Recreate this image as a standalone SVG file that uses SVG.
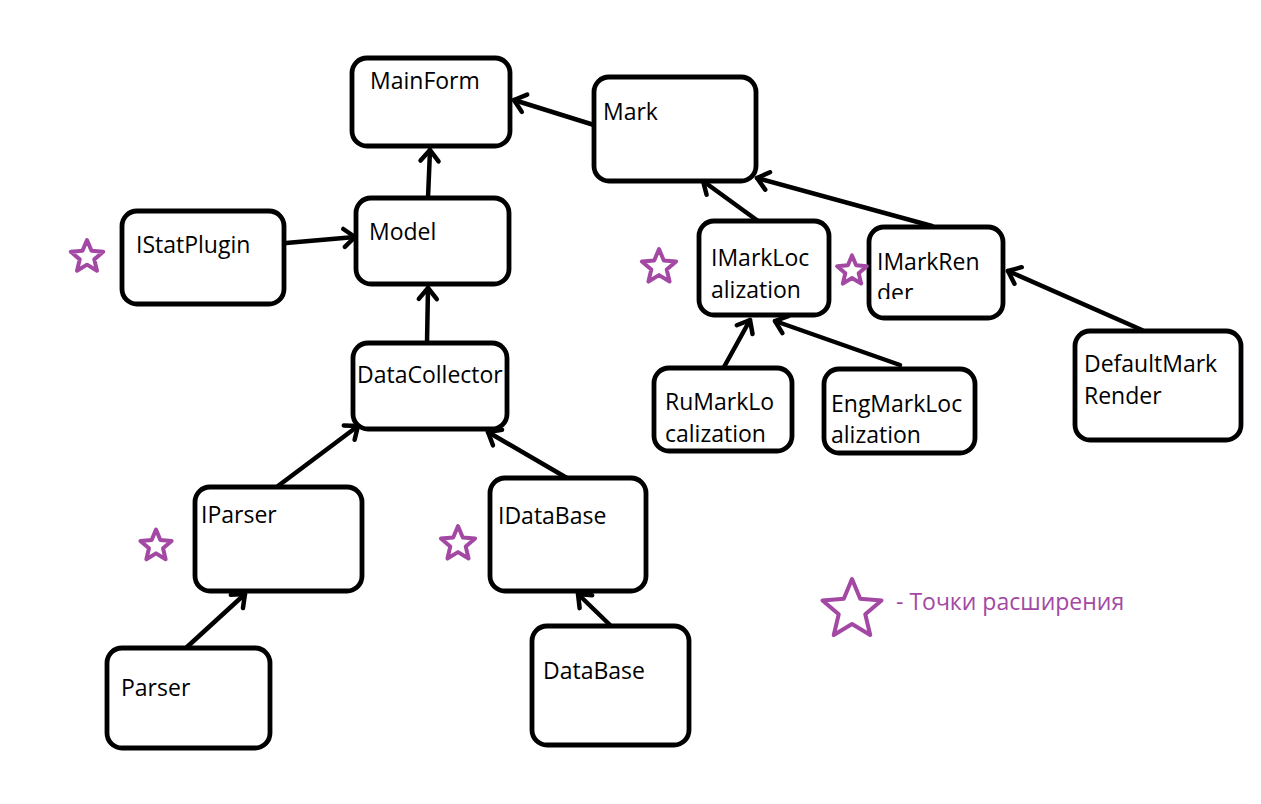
<svg xmlns="http://www.w3.org/2000/svg" width="1261" height="804" viewBox="0 0 1261 804">
<style>
.box{fill:#fff;stroke:#000;stroke-width:4.8}
.lbl{font-family:"Open Sans","Noto Sans",sans-serif;font-size:23px;fill:#000}
.edge{stroke:#000;stroke-width:4.5;fill:none;stroke-linecap:round}
.star{fill:#fff;stroke:#A349A4;stroke-linejoin:round}
.leg{font-family:"Open Sans","Noto Sans",sans-serif;font-size:23px;fill:#A349A4}
</style>
<defs>
<marker id="arr" markerUnits="userSpaceOnUse" viewBox="-14 -12 17 24" refX="0" refY="0" markerWidth="17" markerHeight="24" orient="auto" overflow="visible">
<path d="M-11,-9 L0,0 L-11,9" fill="none" stroke="#000" stroke-width="4.5" stroke-linecap="round" stroke-linejoin="round"/>
</marker>
<path id="st" d="M0,-20 L5.3,-7.28 L19.02,-6.18 L8.56,2.78 L11.76,16.18 L0,9 L-11.76,16.18 L-8.56,2.78 L-19.02,-6.18 L-5.3,-7.28 Z"/>
<clipPath id="clipRen"><rect x="870" y="230" width="132" height="69"/></clipPath>
</defs>
<rect width="1261" height="804" fill="#fff"/>
<g id="connectors">
<line class="edge" x1="428" y1="198" x2="430" y2="150" marker-end="url(#arr)"/>
<line class="edge" x1="594" y1="125" x2="514" y2="100" marker-end="url(#arr)"/>
<line class="edge" x1="286" y1="243" x2="355" y2="237" marker-end="url(#arr)"/>
<line class="edge" x1="427" y1="343" x2="428" y2="288" marker-end="url(#arr)"/>
<line class="edge" x1="278" y1="486" x2="358" y2="426" marker-end="url(#arr)"/>
<line class="edge" x1="567" y1="478" x2="488" y2="432" marker-end="url(#arr)"/>
<line class="edge" x1="187" y1="647" x2="245" y2="594" marker-end="url(#arr)"/>
<line class="edge" x1="610" y1="625" x2="578" y2="594" marker-end="url(#arr)"/>
<line class="edge" x1="758" y1="221" x2="703" y2="181" marker-end="url(#arr)"/>
<line class="edge" x1="932" y1="226" x2="757" y2="178" marker-end="url(#arr)"/>
<line class="edge" x1="724" y1="367" x2="750" y2="320" marker-end="url(#arr)"/>
<line class="edge" x1="900" y1="365" x2="775" y2="321" marker-end="url(#arr)"/>
<line class="edge" x1="1142" y1="330" x2="1008" y2="271" marker-end="url(#arr)"/>
</g>
<g id="MainForm"><rect class="box" x="352" y="58" width="158" height="88" rx="15"/><text class="lbl" x="370" y="89">MainForm</text></g>
<g id="Mark"><rect class="box" x="594" y="77" width="162" height="104" rx="15"/><text class="lbl" x="603" y="120">Mark</text></g>
<g id="Model"><rect class="box" x="356" y="198" width="153" height="86" rx="15"/><text class="lbl" x="369" y="240">Model</text></g>
<g id="IStatPlugin"><rect class="box" x="122" y="211" width="162" height="93" rx="15"/><text class="lbl" x="136" y="253">IStatPlugin</text></g>
<g id="DataCollector"><rect class="box" x="353" y="343" width="154" height="86" rx="15"/><text class="lbl" x="357" y="383">DataCollector</text></g>
<g id="IMarkLocalization"><rect class="box" x="699" y="221" width="130" height="94" rx="15"/><text class="lbl" x="711" y="266">IMarkLoc</text><text class="lbl" x="711" y="298">alization</text></g>
<g id="IMarkRender"><rect class="box" x="869" y="227" width="134" height="91" rx="15"/><g clip-path="url(#clipRen)"><text class="lbl" x="877" y="270">IMarkRen</text><text class="lbl" x="877" y="301">der</text></g></g>
<g id="RuMarkLocalization"><rect class="box" x="654" y="368" width="138" height="83" rx="15"/><text class="lbl" x="665" y="410">RuMarkLo</text><text class="lbl" x="665" y="442">calization</text></g>
<g id="EngMarkLocalization"><rect class="box" x="824" y="369" width="151" height="84" rx="15"/><text class="lbl" x="831" y="412">EngMarkLoc</text><text class="lbl" x="831" y="443">alization</text></g>
<g id="DefaultMarkRender"><rect class="box" x="1075" y="331" width="166" height="109" rx="15"/><text class="lbl" x="1084" y="372">DefaultMark</text><text class="lbl" x="1084" y="404">Render</text></g>
<g id="IParser"><rect class="box" x="195" y="487" width="167" height="104" rx="15"/><text class="lbl" x="201" y="523">IParser</text></g>
<g id="IDataBase"><rect class="box" x="490" y="478" width="156" height="113" rx="15"/><text class="lbl" x="498" y="524">IDataBase</text></g>
<g id="Parser"><rect class="box" x="107" y="648" width="163" height="100" rx="15"/><text class="lbl" x="121" y="696">Parser</text></g>
<g id="DataBase"><rect class="box" x="532" y="626" width="157" height="119" rx="15"/><text class="lbl" x="543" y="679">DataBase</text></g>
<g id="stars">
<use href="#st" class="star" transform="translate(87,257) scale(0.85)" stroke-width="4.7"/>
<use href="#st" class="star" transform="translate(659,267) scale(0.9)" stroke-width="4.4"/>
<use href="#st" class="star" transform="translate(852,271) scale(0.78)" stroke-width="5.1"/>
<use href="#st" class="star" transform="translate(156,546) scale(0.82)" stroke-width="4.9"/>
<use href="#st" class="star" transform="translate(458,544) scale(0.9)" stroke-width="4.4"/>
</g>
<g id="legend">
<use href="#st" class="star" transform="translate(852,610) scale(1.55)" stroke-width="2.6"/>
<text class="leg" x="896" y="610">- Точки расширения</text>
</g>
</svg>
